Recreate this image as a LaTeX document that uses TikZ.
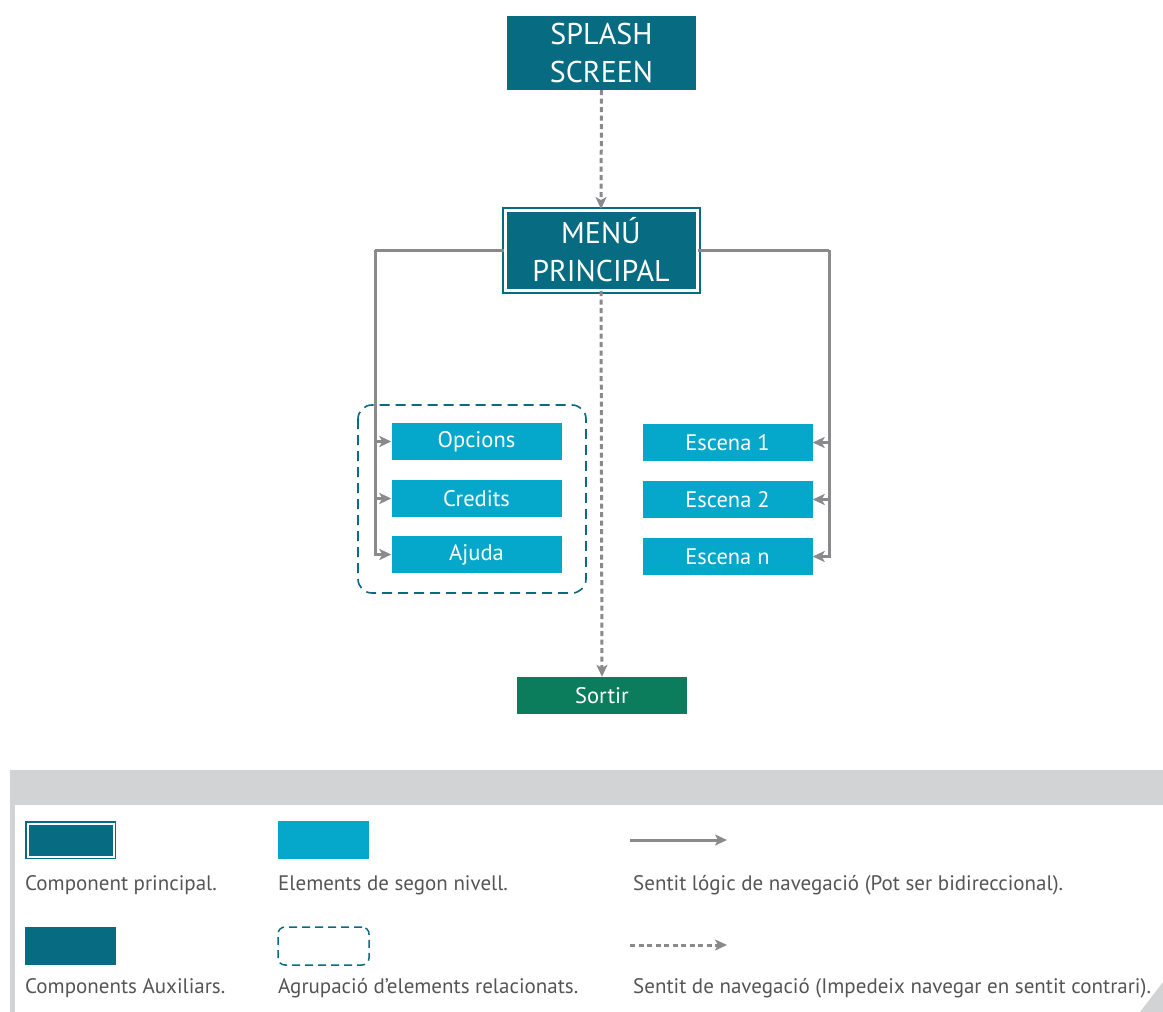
\documentclass[tikz,border=0pt]{standalone}
\usepackage{fontspec}
\setmainfont{PT Sans}
\usetikzlibrary{arrows.meta,calc}

\definecolor{mainteal}{HTML}{076B82}
\definecolor{lightblue}{HTML}{05A8CA}
\definecolor{exitgreen}{HTML}{0B7D5D}
\definecolor{arrowgray}{HTML}{8A8A8D}
\definecolor{bandgray}{HTML}{D1D3D4}
\definecolor{legendtext}{HTML}{555557}

\tikzset{
  box/.style={rectangle, inner sep=0pt, text=white, align=center},
  auxbox/.style={box, fill=mainteal, minimum width=189pt, minimum height=74pt,
    font=\fontsize{30}{38}\selectfont},
  mainbox/.style={box, fill=mainteal, draw=mainteal, double=white,
    double distance=3pt, line width=2pt, minimum width=192pt, minimum height=80pt,
    font=\fontsize{30}{38}\selectfont},
  secbox/.style={box, fill=lightblue, minimum width=170pt, minimum height=37pt,
    font=\fontsize{22.5}{24}\selectfont},
  exitbox/.style={secbox, fill=exitgreen},
  tip/.style={-{Stealth[length=12pt,width=11pt,inset=3pt]}},
  navline/.style={draw=arrowgray, line width=3pt},
  navarrow/.style={navline, tip, arrowgray},
  oneway/.style={navarrow, dash pattern=on 5pt off 3.5pt},
  groupline/.style={draw=mainteal, line width=1.6pt, dash pattern=on 10pt off 6pt,
    rounded corners=14pt},
  legendlabel/.style={anchor=west, inner sep=0pt, text=legendtext,
    font=\fontsize{21}{24}\selectfont}
}

\begin{document}
\begin{tikzpicture}[x=1pt,y=-1pt]
\useasboundingbox (0,0) rectangle (1163,1012);

% main flow
\node[auxbox] (splash) at (601.5,53) {SPLASH\\SCREEN};
\node[mainbox] (menu) at (601,250) {MENÚ\\PRINCIPAL};

\node[secbox] (opcions) at (476.5,441.5) {Opcions};
\node[secbox] (credits) at (476.5,498.5) {Credits};
\node[secbox] (ajuda)   at (476.5,554.5) {Ajuda};

\node[secbox] (esc1) at (727.5,442.5) {Escena 1};
\node[secbox] (esc2) at (727.5,499.5) {Escena 2};
\node[secbox] (escn) at (727.5,556.5) {Escena n};

\node[exitbox] (sortir) at (602,695.5) {Sortir};

% grouping of the auxiliary screens
\draw[groupline] (358,405) rectangle (586,593);

% one-way navigation
\draw[oneway] (splash.south) -- (menu.north);
\draw[oneway] (menu.south) -- (sortir.north);

% left branch
\coordinate (lspine) at (375,250);
\draw[navline] (menu.west) -- (lspine);
\draw[navarrow] (lspine) |- (ajuda.west);
\draw[navarrow] (lspine |- opcions.west) -- (opcions.west);
\draw[navarrow] (lspine |- credits.west) -- (credits.west);

% right branch
\coordinate (rspine) at (829,250);
\draw[navline] (menu.east) -- (rspine);
\draw[navarrow] (rspine) |- (escn.east);
\draw[navarrow] (rspine |- esc1.east) -- (esc1.east);
\draw[navarrow] (rspine |- esc2.east) -- (esc2.east);

% legend frame
\fill[bandgray] (10,770) rectangle (1163,805);
\fill[bandgray] (10,805) rectangle (15,1012);
\fill[bandgray] (1163,982) -- (1163,1012) -- (1140,1012) -- cycle;

% legend symbols
\node[box, fill=mainteal, draw=mainteal, double=white, double distance=2pt,
  line width=1.5pt, minimum width=86pt, minimum height=33pt] (lgmain) at (70.5,840) {};
\node[box, fill=lightblue, minimum width=91pt, minimum height=38pt] (lgsec) at (323.5,840) {};
\node[box, fill=mainteal, minimum width=91pt, minimum height=38pt] (lgaux) at (70.5,946) {};
\node[box, draw=mainteal, line width=1.5pt, dash pattern=on 8pt off 5pt,
  rounded corners=7pt, minimum width=91pt, minimum height=38pt] (lggroup) at (323.5,946) {};
\coordinate (lgsolidA) at (630,840);
\coordinate (lgsolidB) at (727,840);
\coordinate (lgdashA) at (630,945);
\coordinate (lgdashB) at (727,945);
\draw[navarrow] (lgsolidA) -- (lgsolidB);
\draw[oneway] (lgdashA) -- (lgdashB);

% legend texts
\node[legendlabel] (tmain) at (25,885) {Component principal.};
\node[legendlabel] (tsec) at (278,885) {Elements de segon nivell.};
\node[legendlabel] (tsolid) at (633,885) {Sentit lógic de navegació (Pot ser bidireccional).};
\node[legendlabel] (taux) at (25,988) {Components Auxiliars.};
\node[legendlabel] (tgroup) at (278,988) {Agrupació d’elements relacionats.};
\node[legendlabel] (tdash) at (633,988) {Sentit de navegació (Impedeix navegar en sentit contrari).};
\end{tikzpicture}
\end{document}
